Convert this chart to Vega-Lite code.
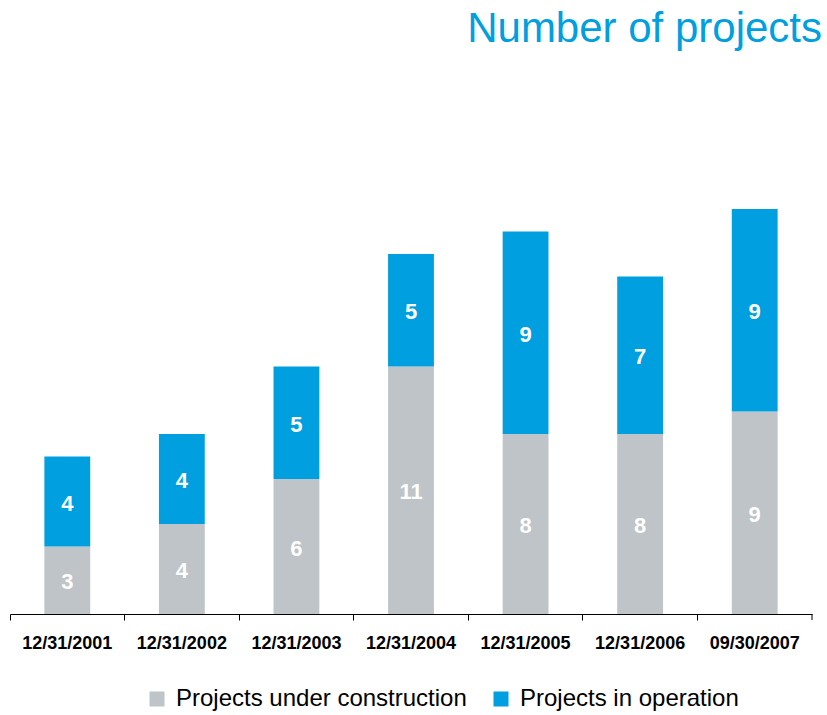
{
  "$schema": "https://vega.github.io/schema/vega-lite/v6.json",
  "autosize": "none",
  "width": 802,
  "height": 450,
  "padding": {"left": 10, "top": 164, "right": 15, "bottom": 101},
  "background": "white",
  "title": {
    "text": "Number of projects",
    "anchor": "end",
    "frame": "group",
    "fontSize": 42,
    "font": "Liberation Sans",
    "fontWeight": "normal",
    "color": "#009FE0",
    "baseline": "alphabetic",
    "offset": 80,
    "dx": 10
  },
  "config": {
    "view": {"stroke": null},
    "font": "Liberation Sans"
  },
  "data": {
    "values": [
      {"date": "12/31/2001", "status": "Projects under construction", "n": 3},
      {"date": "12/31/2001", "status": "Projects in operation", "n": 4},
      {"date": "12/31/2002", "status": "Projects under construction", "n": 4},
      {"date": "12/31/2002", "status": "Projects in operation", "n": 4},
      {"date": "12/31/2003", "status": "Projects under construction", "n": 6},
      {"date": "12/31/2003", "status": "Projects in operation", "n": 5},
      {"date": "12/31/2004", "status": "Projects under construction", "n": 11},
      {"date": "12/31/2004", "status": "Projects in operation", "n": 5},
      {"date": "12/31/2005", "status": "Projects under construction", "n": 8},
      {"date": "12/31/2005", "status": "Projects in operation", "n": 9},
      {"date": "12/31/2006", "status": "Projects under construction", "n": 8},
      {"date": "12/31/2006", "status": "Projects in operation", "n": 7},
      {"date": "09/30/2007", "status": "Projects under construction", "n": 9},
      {"date": "09/30/2007", "status": "Projects in operation", "n": 9}
    ]
  },
  "encoding": {
    "x": {
      "field": "date",
      "type": "nominal",
      "sort": null,
      "title": null,
      "scale": {
        "domain": ["12/31/2001", "12/31/2002", "12/31/2003", "12/31/2004", "12/31/2005", "12/31/2006", "09/30/2007"],
        "paddingInner": 0,
        "paddingOuter": 0
      },
      "axis": {
        "bandPosition": 0,
        "labelAngle": 0,
        "labelFontSize": 18,
        "labelFontWeight": "bold",
        "labelColor": "#000000",
        "labelPadding": 14,
        "labelFont": "Liberation Sans",
        "tickSize": 6,
        "tickColor": "#000000",
        "domainColor": "#000000",
        "grid": false
      }
    }
  },
  "layer": [
    {
      "mark": {"type": "bar", "width": {"band": 0.4}},
      "encoding": {
        "y": {
          "field": "n",
          "type": "quantitative",
          "stack": "zero",
          "scale": {"domain": [0, 20], "nice": false},
          "axis": null
        },
        "color": {
          "field": "status",
          "type": "nominal",
          "scale": {
            "domain": ["Projects under construction", "Projects in operation"],
            "range": ["#BEC4C7", "#009FE0"]
          },
          "legend": {
            "title": null,
            "orient": "none",
            "direction": "horizontal",
            "legendX": 135,
            "legendY": 523,
            "symbolType": "square",
            "symbolSize": 225,
            "symbolStrokeWidth": 0,
            "labelFontSize": 24,
            "labelFont": "Liberation Sans",
            "labelColor": "#000000",
            "labelOffset": 7,
            "labelLimit": 500,
            "columnPadding": 22
          }
        },
        "order": {"field": "status", "sort": "descending"}
      }
    },
    {
      "mark": {"type": "text", "color": "white", "fontSize": 22, "fontWeight": "bold", "font": "Liberation Sans", "baseline": "middle", "dy": 2},
      "encoding": {
        "y": {"field": "n", "type": "quantitative", "stack": "zero", "bandPosition": 0.5},
        "text": {"field": "n", "type": "quantitative"},
        "order": {"field": "status", "sort": "descending"}
      }
    },
    {
      "data": {"values": [{"date": "09/30/2007"}]},
      "mark": {"type": "rule", "color": "#000000", "strokeWidth": 1},
      "encoding": {
        "x": {"field": "date", "type": "nominal", "bandPosition": 1},
        "y": {"datum": 0},
        "y2": {"datum": -0.27}
      }
    }
  ]
}
